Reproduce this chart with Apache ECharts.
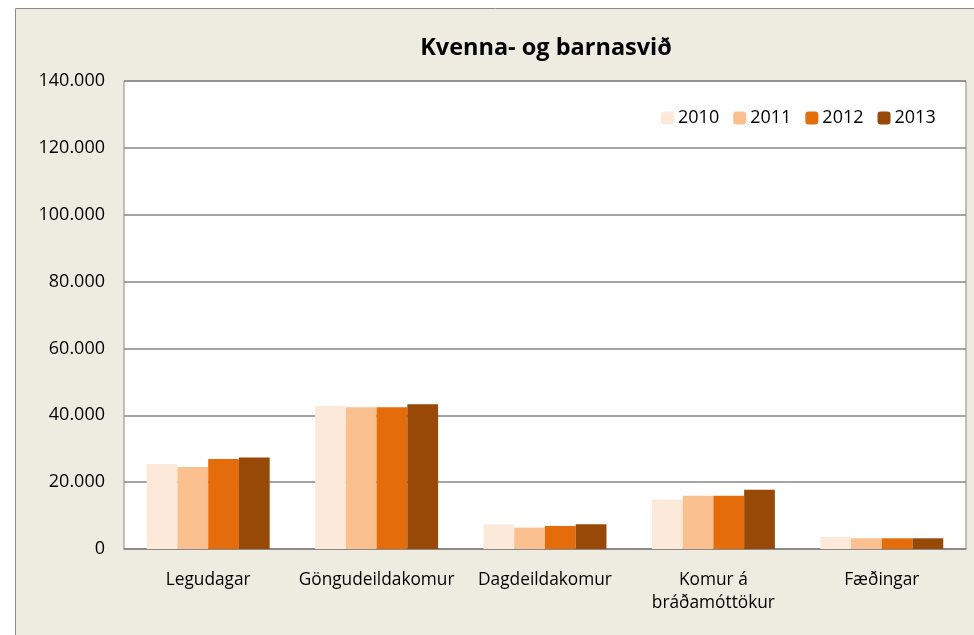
<!DOCTYPE html>
<html>
<head>
<meta charset="utf-8">
<script src="https://cdn.jsdelivr.net/npm/echarts@6/dist/echarts.min.js"></script>
<style>
  html, body { margin: 0; padding: 0; background: #fff; }
  #chart { width: 974px; height: 635px; }
</style>
</head>
<body>
<div id="chart"></div>
<script type="text/javascript">
var categories = ['Legudagar', 'Göngudeildakomur', 'Dagdeildakomur', 'Komur á\nbráðamóttökur', 'Fæðingar'];
var years = ['2010', '2011', '2012', '2013'];
var v2010 = [25400, 42800, 7400, 14700, 3600];
var v2011 = [24500, 42400, 6400, 15900, 3200];
var v2012 = [26900, 42400, 6900, 15900, 3200];
var v2013 = [27400, 43300, 7400, 17700, 3200];
var colors = ['#FDE9D9', '#FAC090', '#E46C0A', '#984807'];

var values = [v2010, v2011, v2012, v2013];
var font = '"Open Sans", Lato, sans-serif';

var myChart = echarts.init(document.getElementById('chart'));
var series = [];
for (var i = 0; i < years.length; i++) {
    series.push({
        name: years[i],
        type: 'bar',
        data: values[i],
        barGap: '0%',
        barCategoryGap: '27%',
        itemStyle: { color: colors[i] }
    });
}

myChart.setOption({
    animation: false,
    backgroundColor: '#fff',
    color: colors,
    graphic: [{
        type: 'rect',
        z: -10,
        shape: { x: 15.5, y: 8.5, width: 1000, height: 700 },
        style: { fill: '#EEECE1', stroke: '#8C8C8C', lineWidth: 1 }
    }],
    title: {
        text: 'Kvenna- og barnasvið',
        left: 541,
        textAlign: 'center',
        top: 31,
        textStyle: { fontFamily: font, fontSize: 23.5, fontWeight: 'bold', color: '#000' }
    },
    legend: {
        data: years,
        top: 104,
        left: 656,
        itemWidth: 13,
        itemHeight: 13,
        itemGap: 14,
        textStyle: { fontFamily: font, fontSize: 18, color: '#000', padding: [0, 0, 0, -1] }
    },
    grid: {
        left: 124,
        top: 81,
        right: 8,
        bottom: 86,
        show: true,
        backgroundColor: '#fff',
        borderColor: '#868686',
        borderWidth: 1,
        containLabel: false
    },
    xAxis: {
        type: 'category',
        data: categories,
        axisTick: { show: false },
        axisLine: { lineStyle: { color: '#868686', width: 1.5 } },
        axisLabel: { interval: 0, fontFamily: font, fontSize: 17.3, color: '#000', margin: 20, lineHeight: 23 }
    },
    yAxis: {
        type: 'value',
        min: 0,
        max: 140000,
        interval: 20000,
        axisLine: { show: false },
        axisTick: { show: false },
        splitLine: { lineStyle: { color: '#868686', width: 1.5 } },
        axisLabel: {
            fontFamily: font, fontSize: 18, color: '#000', margin: 19,
            formatter: function (v) {
                return v === 0 ? '0' : (v / 1000).toFixed(0) + '.000';
            }
        }
    },
    series: series
});
</script>
</body>
</html>
